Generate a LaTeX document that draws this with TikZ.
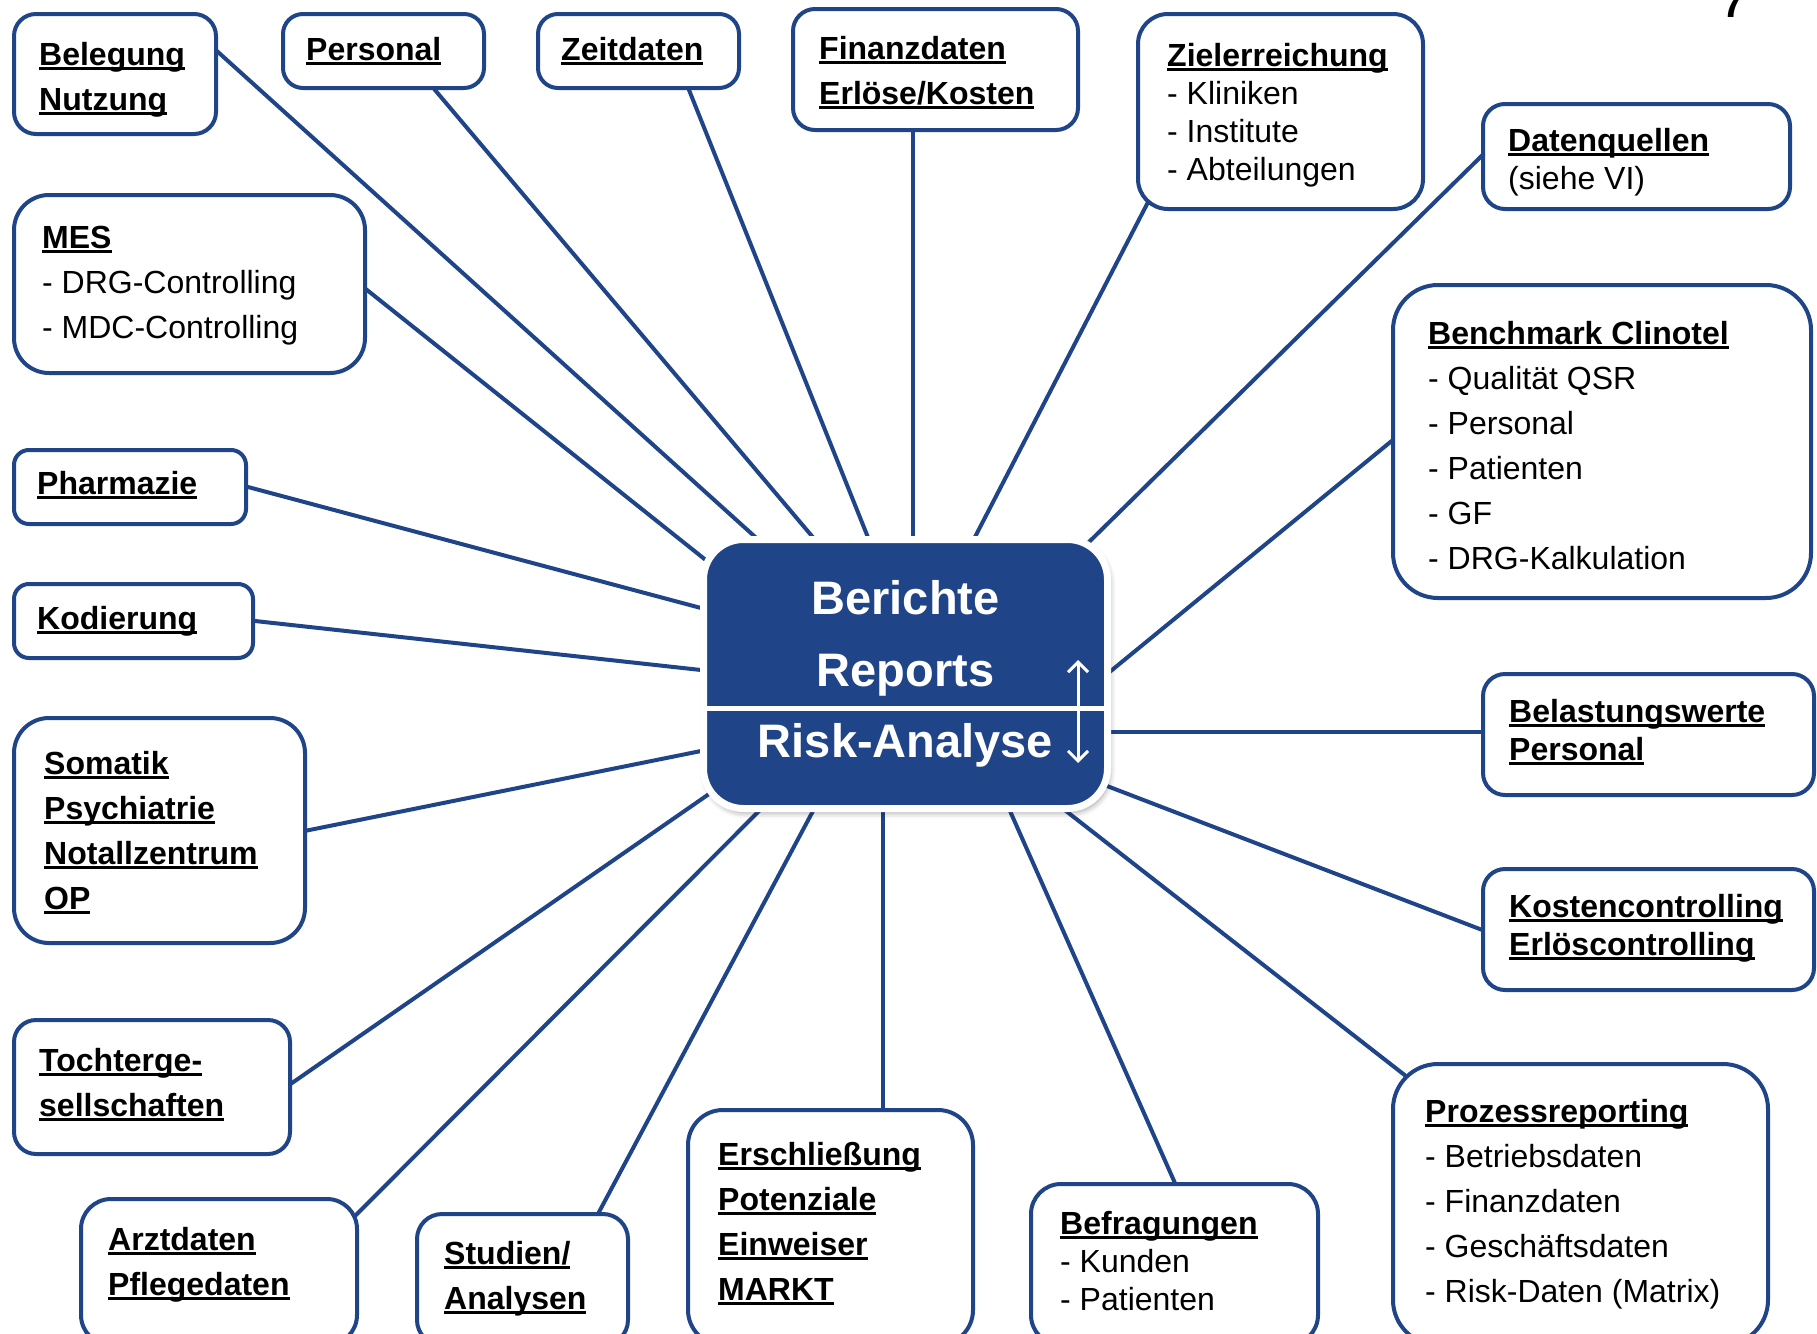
\documentclass[tikz,border=0pt]{standalone}
\usepackage{fontspec}
\setmainfont{Liberation Sans}
\usetikzlibrary{calc,backgrounds,arrows.meta,shadows.blur}
\definecolor{myblue}{RGB}{31,68,136}
\newcommand\tstrut{\rule{0pt}{30pt}}
\newcommand\hd[1]{{\bfseries\setbox0\hbox{#1}\rlap{\rule[-5pt]{\wd0}{3pt}}\box0}}
\tikzset{
  box/.style={draw=myblue, line width=4pt, fill=white, rounded corners=#1, inner sep=0pt},
  box/.default=22pt,
  txt/.style={anchor=north west, inner sep=0pt, align=left, font=\fontsize{32}{45}\selectfont},
  txtn/.style={txt, font=\fontsize{32}{38}\selectfont},
  conn/.style={draw=myblue, line width=4pt, shorten <=-8pt, shorten >=-25pt},
  hubstyle/.style={fill=myblue, draw=white, line width=7pt, rounded corners=40pt,
    minimum width=404pt, minimum height=269pt, inner sep=0pt, text=white,
    font=\bfseries\fontsize{47}{71.5}\selectfont, align=center,
    blur shadow={shadow xshift=2pt, shadow yshift=-4pt, shadow blur radius=6pt, shadow opacity=40}},
}
\begin{document}
\begin{tikzpicture}[x=1pt,y=-1pt]
\useasboundingbox (0,0) rectangle (1817,1333);
\clip (0,0) rectangle (1817,1333);

% boxes
\node[box, minimum width=202pt, minimum height=120pt] (beleg) at (115,74) {};
\node[box=20pt, minimum width=201pt, minimum height=74pt] (personal) at (383.5,51) {};
\node[box=20pt, minimum width=201pt, minimum height=74pt] (zeit) at (638.5,51) {};
\node[box, minimum width=285pt, minimum height=121pt] (finanz) at (935.5,69.5) {};
\node[box=30pt, minimum width=285pt, minimum height=195pt] (ziel) at (1280.5,111.5) {};
\node[box, minimum width=307pt, minimum height=105pt] (datenq) at (1636.5,156.5) {};
\node[box=45pt, minimum width=418pt, minimum height=313pt] (bench) at (1602,441.5) {};
\node[box, minimum width=331pt, minimum height=121pt] (belast) at (1648.5,734.5) {};
\node[box, minimum width=331pt, minimum height=121pt] (kosten) at (1648.5,929.5) {};
\node[box=45pt, minimum width=375pt, minimum height=281pt] (prozess) at (1580.5,1204.5) {};
\node[box=30pt, minimum width=287pt, minimum height=161pt] (befrag) at (1174.5,1264.5) {};
\node[box=35pt, minimum width=285pt, minimum height=235pt] (ersch) at (830.5,1227.5) {};
\node[box=25pt, minimum width=211pt, minimum height=131pt] (studien) at (522.5,1279.5) {};
\node[box=30pt, minimum width=276pt, minimum height=146pt] (arzt) at (219,1272) {};
\node[box, minimum width=276pt, minimum height=134pt] (tochter) at (152,1087) {};
\node[box=35pt, minimum width=291pt, minimum height=225pt] (somatik) at (159.5,830.5) {};
\node[box=15pt, minimum width=239pt, minimum height=74pt] (kodier) at (133.5,621) {};
\node[box=15pt, minimum width=232pt, minimum height=74pt] (pharma) at (130,487) {};
\node[box=35pt, minimum width=351pt, minimum height=178pt] (mes) at (189.5,284) {};

% texts
\node[txt] (belegT) at (39,35) {\tstrut\hd{Belegung}\\\hd{Nutzung}};
\node[txt] (personalT) at (306,30) {\tstrut\hd{Personal}};
\node[txt] (zeitT) at (561,30) {\tstrut\hd{Zeitdaten}};
\node[txt] (finanzT) at (819,29) {\tstrut\hd{Finanzdaten}\\\hd{Erlöse/Kosten}};
\node[txtn] (zielT) at (1167,36) {\tstrut\hd{Zielerreichung}\\- Kliniken\\- Institute\\- Abteilungen};
\node[txtn] (datenqT) at (1508,121) {\tstrut\hd{Datenquellen}\\(siehe VI)};
\node[txt] (benchT) at (1428,314) {\tstrut\hd{Benchmark Clinotel}\\- Qualität QSR\\- Personal\\- Patienten\\- GF\\- DRG-Kalkulation};
\node[txtn] (belastT) at (1509,692) {\tstrut\hd{Belastungswerte}\\\hd{Personal}};
\node[txtn] (kostenT) at (1509,887) {\tstrut\hd{Kostencontrolling}\\\hd{Erlöscontrolling}};
\node[txt] (prozessT) at (1425,1092) {\tstrut\hd{Prozessreporting}\\- Betriebsdaten\\- Finanzdaten\\- Geschäftsdaten\\- Risk-Daten (Matrix)};
\node[txtn] (befragT) at (1060,1204) {\tstrut\hd{Befragungen}\\- Kunden\\- Patienten};
\node[txt] (erschT) at (718,1135) {\tstrut\hd{Erschließung}\\\hd{Potenziale}\\\hd{Einweiser}\\\hd{MARKT}};
\node[txt] (studienT) at (444,1234) {\tstrut\hd{Studien/}\\\hd{Analysen}};
\node[txt] (arztT) at (108,1220) {\tstrut\hd{Arztdaten}\\\hd{Pflegedaten}};
\node[txt] (tochterT) at (39,1041) {\tstrut\hd{Tochterge-}\\\hd{sellschaften}};
\node[txt] (somatikT) at (44,744) {\tstrut\hd{Somatik}\\\hd{Psychiatrie}\\\hd{Notallzentrum}\\\hd{OP}};
\node[txt] (kodierT) at (37,599) {\tstrut\hd{Kodierung}};
\node[txt] (pharmaT) at (37,464) {\tstrut\hd{Pharmazie}};
\node[txt] (mesT) at (42,218) {\tstrut\hd{MES}\\- DRG-Controlling\\- MDC-Controlling};

% hub
\node[hubstyle] (hub) at (905.5,674) {Berichte\\Reports\\Risk-Analyse};
\draw[white, line width=5pt] ($(hub.west)+(0,34)$) -- ($(hub.east)+(0,34)$);
\draw[white, line width=3pt, {Straight Barb[length=10pt,width=20pt]}-{Straight Barb[length=10pt,width=20pt]}]
  ($(hub.center)+(172.5,-14)$) -- ($(hub.center)+(172.5,89)$);

% page number fragment
\node[anchor=base west, inner sep=0pt, font=\bfseries\fontsize{40}{40}\selectfont] (pnum) at (1722,17) {7};

% connectors
\begin{scope}[on background layer]
\draw[conn] ($(beleg.east)+(0,-22)$) -- ($(hub.center)+(-152.5,-139)$);
\draw[conn] ($(personal.south)+(51.5,0)$) -- ($(hub.center)+(-94.5,-139)$);
\draw[conn] ($(zeit.south)+(50.5,0)$) -- ($(hub.center)+(-38.5,-139)$);
\draw[conn] ($(finanz.south)+(-22.5,0)$) -- ($(hub.center)+(7.5,-139)$);
\draw[conn] ($(ziel.south west)+(9,-3)$) -- ($(hub.center)+(70.5,-139)$);
\draw[conn] (datenq.west) -- ($(hub.center)+(183.5,-132)$);
\draw[conn] (bench.west) -- ($(hub.center)+(206.5,-4)$);
\draw[conn] ($(belast.west)+(0,-2.5)$) -- ($(hub.center)+(206.5,58)$);
\draw[conn] (kosten.west) -- ($(hub.center)+(201.5,112)$);
\draw[conn] ($(prozess.north west)+(11,11)$) -- ($(hub.center)+(160.5,137)$);
\draw[conn] (befrag.north) -- ($(hub.center)+(104.5,137)$);
\draw[conn] ($(ersch.north)+(52.5,0)$) -- ($(hub.center)+(-22.5,137)$);
\draw[conn] ($(studien.north)+(76.5,0)$) -- ($(hub.center)+(-92.5,137)$);
\draw[conn] ($(arzt.north east)+(0,15)$) -- ($(hub.center)+(-146.5,137)$);
\draw[conn] ($(tochter.east)+(0,-4)$) -- ($(hub.center)+(-196.5,120)$);
\draw[conn] (somatik.east) -- ($(hub.center)+(-204.5,77)$);
\draw[conn] (kodier.east) -- ($(hub.center)+(-204.5,-4)$);
\draw[conn] (pharma.east) -- ($(hub.center)+(-204.5,-66)$);
\draw[conn] ($(mes.east)+(0,6)$) -- ($(hub.center)+(-198.5,-113)$);
\end{scope}
\end{tikzpicture}
\end{document}
